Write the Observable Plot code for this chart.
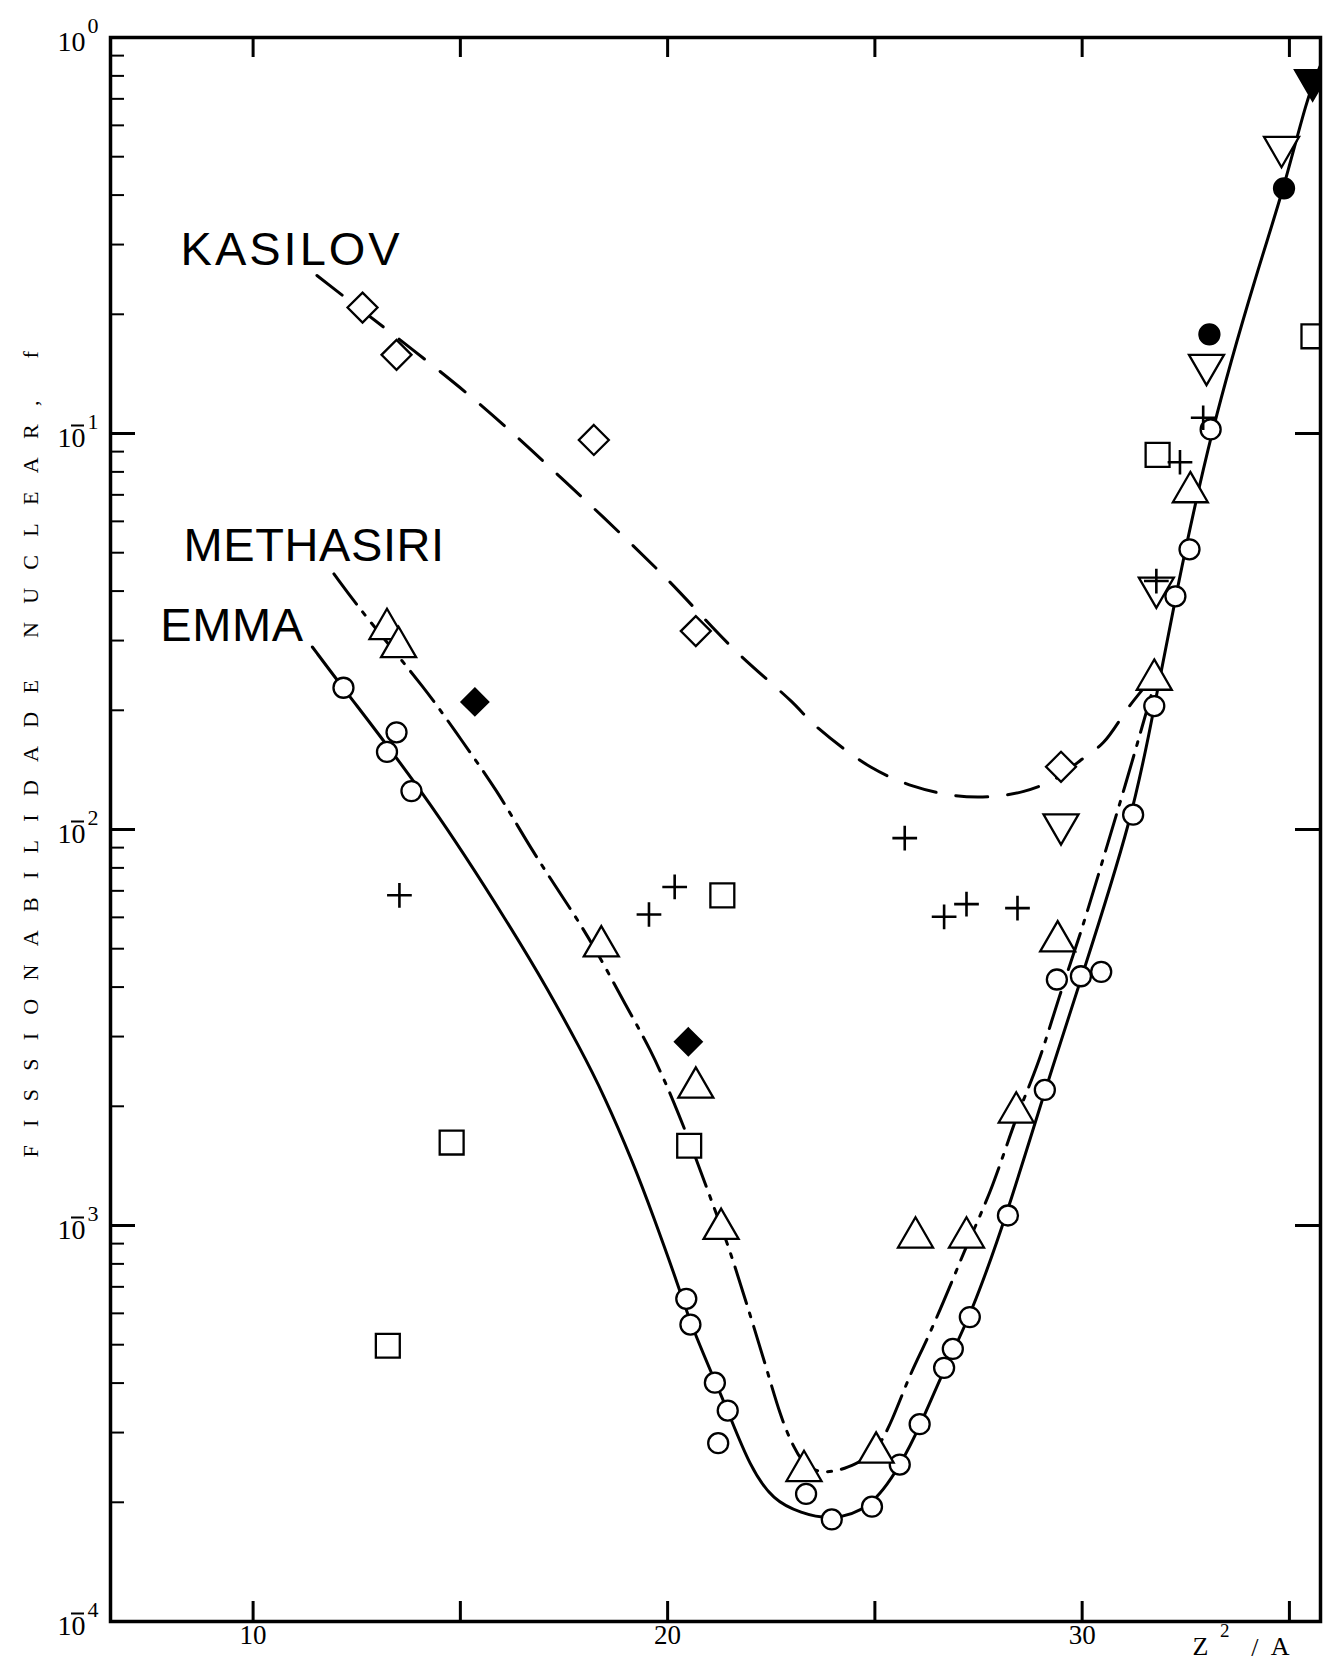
<!DOCTYPE html>
<html>
<head>
<meta charset="utf-8">
<script src="https://cdn.jsdelivr.net/npm/d3@7"></script>
<script src="https://cdn.jsdelivr.net/npm/@observablehq/plot@0.6"></script>
<style>
  html, body { margin: 0; padding: 0; background: #fff; }
  #chart svg { display: block; }
</style>
</head>
<body>
<div id="chart"></div>
<script>
// ---------------- DATA ----------------
// x = Z^2/A, y = fissionabilidade nuclear f

// EMMA — open circles
const emmaX = [12.18, 13.46, 13.23, 13.82, 20.45, 20.55, 21.14, 21.45, 21.22, 23.34, 23.96, 24.93, 25.60, 26.08, 26.67, 26.88, 27.29, 28.21, 29.10, 29.39, 29.97, 30.46, 31.23, 31.74, 32.25, 32.59, 33.10];
const emmaY = [0.0228, 0.0176, 0.0157, 0.0125, 6.53e-4, 5.62e-4, 4.01e-4, 3.41e-4, 2.82e-4, 2.10e-4, 1.81e-4, 1.95e-4, 2.49e-4, 3.15e-4, 4.37e-4, 4.88e-4, 5.87e-4, 1.06e-3, 2.20e-3, 4.18e-3, 4.26e-3, 4.37e-3, 0.0109, 0.0205, 0.0388, 0.0510, 0.1024];

// EMMA — solid fitted curve
const emmaCurveX = [11.43, 12.15, 14.28, 16.27, 17.09, 17.89, 18.45, 19.17, 19.65, 20.29, 20.55, 21.17, 21.45, 21.99, 22.55, 23.21, 23.93, 24.90, 25.62, 26.11, 26.67, 27.31, 28.18, 29.10, 29.97, 31.23, 31.74, 32.25, 33.10, 34.25, 34.87, 35.43, 35.74];
const emmaCurveY = [0.0289, 0.0229, 0.0118, 0.00555, 0.00398, 0.00280, 0.00215, 0.00144, 0.00106, 6.90e-4, 5.66e-4, 3.98e-4, 3.41e-4, 2.45e-4, 2.02e-4, 1.88e-4, 1.80e-4, 1.92e-4, 2.48e-4, 3.15e-4, 4.34e-4, 5.91e-4, 1.06e-3, 2.19e-3, 4.18e-3, 0.0108, 0.0204, 0.0388, 0.1018, 0.263, 0.416, 0.707, 0.846];

// METHASIRI — open up-triangles
const methX = [13.23, 13.51, 18.40, 20.68, 21.29, 23.29, 25.03, 25.98, 27.21, 28.41, 29.41, 31.74, 32.61];
const methY = [0.0321, 0.0289, 5.07e-3, 2.23e-3, 9.81e-4, 2.40e-4, 2.67e-4, 9.33e-4, 9.33e-4, 1.93e-3, 5.22e-3, 0.0239, 0.0711];

// METHASIRI — dash-dot curve
const methCurveX = [11.95, 12.66, 14.20, 14.99, 15.89, 16.68, 17.48, 18.22, 19.01, 19.58, 20.14, 20.70, 21.04, 21.47, 21.91, 22.37, 22.73, 23.04, 23.37, 24.01, 24.57, 25.01, 25.42, 25.85, 26.26, 26.90, 27.24, 27.85, 28.41, 28.93, 29.44, 29.95, 30.51, 31.08, 31.41, 31.77];
const methCurveY = [0.0442, 0.0350, 0.0224, 0.0170, 0.01256, 0.00900, 0.00673, 0.00510, 0.00356, 0.00280, 0.00207, 0.001465, 0.001166, 8.88e-4, 6.33e-4, 4.42e-4, 3.27e-4, 2.75e-4, 2.40e-4, 2.37e-4, 2.51e-4, 2.65e-4, 3.21e-4, 4.23e-4, 5.13e-4, 7.38e-4, 9.05e-4, 1.247e-3, 1.898e-3, 2.506e-3, 3.79e-3, 5.39e-3, 8.45e-3, 0.01335, 0.01762, 0.02385];

// KASILOV — open diamonds
const kasX = [12.64, 13.46, 18.22, 20.68, 29.49];
const kasY = [0.208, 0.158, 0.0963, 0.0317, 0.0144];

// KASILOV — dashed curve
const kasCurveX = [11.54, 11.90, 15.25, 17.53, 19.86, 21.60, 22.98, 23.62, 24.90, 25.93, 26.95, 27.77, 28.59, 29.31, 29.95, 30.51, 31.15, 31.69];
const kasCurveY = [0.2506, 0.2342, 0.1240, 0.0756, 0.0442, 0.02852, 0.02109, 0.01807, 0.01438, 0.01287, 0.01217, 0.01210, 0.01248, 0.01335, 0.01492, 0.01658, 0.02056, 0.02415];

// other data sets
const downTriX = [29.49, 31.79, 33.00, 34.81];
const downTriY = [0.0103, 0.0408, 0.149, 0.529];
const filledDownTriX = [35.56];
const filledDownTriY = [0.780];
const filledCircleX = [34.87, 33.07];
const filledCircleY = [0.416, 0.178];
const filledDiamondX = [15.35, 20.50];
const filledDiamondY = [0.0210, 2.91e-3];
const squareX = [13.25, 14.79, 20.52, 21.32, 31.82, 35.58];
const squareY = [4.97e-4, 1.62e-3, 1.59e-3, 6.82e-3, 0.0883, 0.176];
const plusX = [13.53, 19.55, 20.17, 25.72, 26.67, 27.21, 28.44, 31.79, 32.36, 32.92];
const plusY = [6.82e-3, 6.10e-3, 7.16e-3, 9.51e-3, 6.02e-3, 6.48e-3, 6.33e-3, 0.0424, 0.0846, 0.1096];

// curve names and their anchor in data space
const curveLabelText = ["KASILOV", "METHASIRI", "EMMA"];
const curveLabelX = [8.25, 8.32, 7.76];
const curveLabelY = [0.2915, 0.0520, 0.0326];

// axes
const xTickValues = [10, 15, 20, 25, 30, 35];
const xLabelValues = [10, 20, 30];
const yDecades = [1, 0.1, 0.01, 0.001, 0.0001];
const yNegativeDecades = [0.1, 0.01, 0.001, 0.0001];
const yExponents = ["0", "1", "2", "3", "4"];
const minorMultipliers = [2, 3, 4, 5, 6, 7, 8, 9];
const yTitle = "FISSIONABILIDADE\u00A0NUCLEAR,\u00A0f";

// ---------------- CHART ----------------
const W = 1327, H = 1665;
const mL = 110, mR = 7, mT = 37, mB = 44;
const innerW = W - mL - mR, innerH = H - mT - mB;
const serif = "Liberation Serif, 'Times New Roman', serif";
const sans = "Liberation Sans, Arial, sans-serif";

const pts = (xs, ys) => xs.map((x, i) => ({x, y: ys[i]}));
const minorTicks = yDecades.slice(1).flatMap(d => minorMultipliers.map(m => d * m));
const curveLabels = curveLabelText.map((t, i) => ({text: t, x: curveLabelX[i], y: curveLabelY[i]}));
const yLabelRows = yDecades.map((v, i) => ({v, exp: yExponents[i]}));

const downTriangle = {
  draw(context, size) {
    const y = -Math.sqrt(size / (Math.sqrt(3) * 3));
    const s = Math.sqrt(3) * y;
    context.moveTo(0, -2 * y);
    context.lineTo(-s, y);
    context.lineTo(s, y);
    context.closePath();
  }
};

const sym = {stroke: "black", strokeWidth: 2.3, clip: true};

const chart = Plot.plot({
  width: W, height: H,
  marginLeft: mL, marginRight: mR, marginTop: mT, marginBottom: mB,
  style: {background: "white", color: "black", overflow: "visible"},
  x: {domain: [6.56, 35.75], axis: null},
  y: {type: "log", domain: [1e-4, 1], axis: null},
  marks: [
    // curves
    Plot.line(pts(emmaCurveX, emmaCurveY), {x: "x", y: "y", curve: "basis", stroke: "black", strokeWidth: 3, clip: true}),
    Plot.line(pts(methCurveX, methCurveY), {x: "x", y: "y", curve: "basis", stroke: "black", strokeWidth: 3, strokeDasharray: "38,10,4,10", clip: true}),
    Plot.line(pts(kasCurveX, kasCurveY), {x: "x", y: "y", curve: "catmull-rom", stroke: "black", strokeWidth: 3, strokeDasharray: "32,20", clip: true}),

    // markers
    Plot.dot(pts(emmaX, emmaY), {x: "x", y: "y", symbol: "circle", r: 10, fill: "white", ...sym}),
    Plot.dot(pts(methX, methY), {x: "x", y: "y", symbol: "triangle", r: 13, fill: "white", ...sym}),
    Plot.dot(pts(kasX, kasY), {x: "x", y: "y", symbol: "diamond2", r: 13.5, fill: "white", ...sym}),
    Plot.dot(pts(downTriX, downTriY), {x: "x", y: "y", symbol: downTriangle, r: 13, fill: "white", ...sym}),
    Plot.dot(pts(squareX, squareY), {x: "x", y: "y", symbol: "square", r: 13.5, fill: "white", ...sym}),
    Plot.dot(pts(filledDownTriX, filledDownTriY), {x: "x", y: "y", symbol: downTriangle, r: 13, fill: "black", ...sym}),
    Plot.dot(pts(filledCircleX, filledCircleY), {x: "x", y: "y", symbol: "circle", r: 10, fill: "black", ...sym}),
    Plot.dot(pts(filledDiamondX, filledDiamondY), {x: "x", y: "y", symbol: "diamond2", r: 12, fill: "black", ...sym}),
    Plot.dot(pts(plusX, plusY), {x: "x", y: "y", symbol: "plus", r: 8, stroke: "black", strokeWidth: 2.6, clip: true}),

    // frame and inward ticks
    Plot.frame({stroke: "black", strokeWidth: 3.5}),
    Plot.ruleX(xTickValues, {insetTop: innerH - 20, strokeWidth: 3}),
    Plot.ruleX(xTickValues, {insetBottom: innerH - 20, strokeWidth: 3}),
    Plot.ruleY(yDecades, {insetRight: innerW - 25, strokeWidth: 3}),
    Plot.ruleY(minorTicks, {insetRight: innerW - 14, strokeWidth: 2}),
    Plot.ruleY(yDecades.slice(1, 4), {insetLeft: innerW - 25, strokeWidth: 3}),

    // y tick labels: "10" with exponent; a bar above the 0 marks negative powers
    Plot.text(yLabelRows, {y: "v", text: () => "10", frameAnchor: "left", dx: -25, dy: 5, textAnchor: "end", fontSize: 28, fontFamily: serif}),
    Plot.ruleY(yNegativeDecades, {insetLeft: -39, insetRight: innerW + 26, dy: -8, strokeWidth: 2}),
    Plot.text(yLabelRows, {y: "v", text: "exp", frameAnchor: "left", dx: -23, dy: -12, textAnchor: "start", fontSize: 22, fontFamily: serif}),

    // x tick labels
    Plot.text(xLabelValues, {x: d => d, text: d => String(d), frameAnchor: "bottom", dy: 22, fontSize: 27, fontFamily: serif}),

    // x title Z^2 / A
    Plot.text(["Z"], {text: d => d, frameAnchor: "bottom-right", dx: -112, dy: 33, fontSize: 26, fontFamily: serif}),
    Plot.text(["2"], {text: d => d, frameAnchor: "bottom-right", dx: -91, dy: 15, fontSize: 19, fontFamily: serif}),
    Plot.text(["/"], {text: d => d, frameAnchor: "bottom-right", dx: -62, dy: 34, fontSize: 26, fontFamily: serif}),
    Plot.text(["A"], {text: d => d, frameAnchor: "bottom-right", dx: -31, dy: 33, fontSize: 26, fontFamily: serif}),

    // y title (starts at the bottom, reads upward)
    Plot.text([yTitle], {text: d => d, frameAnchor: "left", dx: -80, dy: 328, rotate: -90, textAnchor: "start", fontSize: 22, fontFamily: serif}),

    // curve names
    Plot.text(curveLabels, {x: "x", y: "y", text: "text", textAnchor: "start", fontSize: 47, fontFamily: sans})
  ]
});

// letter spacing for the spaced-out texts
const spacing = {"KASILOV": 3, "METHASIRI": 0.6, "EMMA": 0.6};
spacing[yTitle] = 18.3;
d3.select(chart).selectAll("text").each(function () {
  const t = this.textContent;
  if (t in spacing) this.setAttribute("letter-spacing", spacing[t]);
});

document.getElementById("chart").append(chart);
</script>
</body>
</html>
